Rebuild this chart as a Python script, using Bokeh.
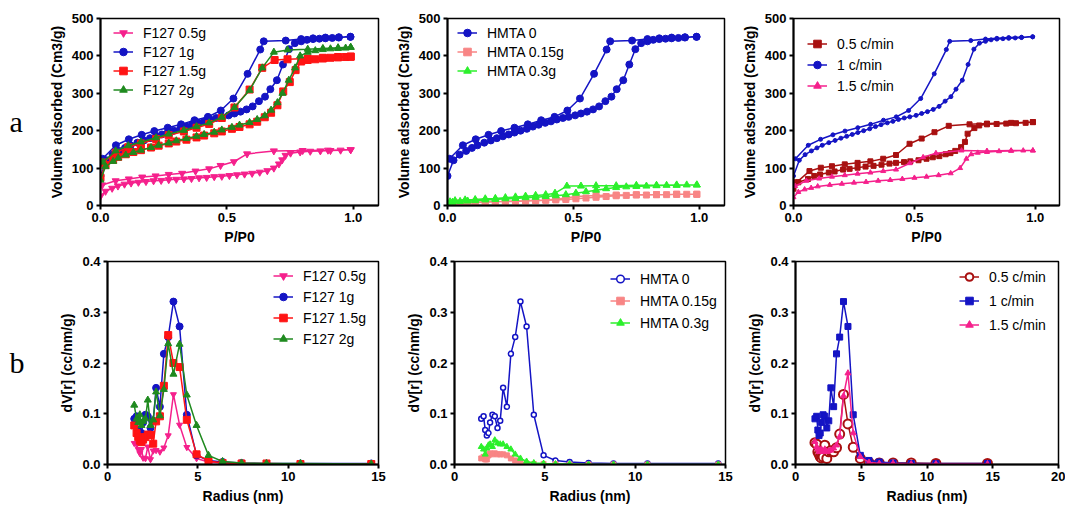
from bokeh.plotting import figure
from bokeh.layouts import column, row
from bokeh.models import Legend, LegendItem, FixedTicker, NumeralTickFormatter, Range1d
from bokeh.core.properties import value
from bokeh.embed import file_html
from bokeh.resources import INLINE

FONT = "Liberation Sans"
PINK = "#f5208c"
BLUE = "#1414c4"
RED = "#ff1414"
GREEN = "#1f8a1f"
SALMON = "#f88585"
LIME = "#2cf02c"
DARKRED = "#a81010"

# ---------------- isotherm data (P/P0, Volume adsorbed) ----------------
# blue sample: F127 1g = HMTA 0 = 1 c/min
blue_P_ads = [0.0, 0.024, 0.048, 0.074, 0.097, 0.119, 0.146, 0.172, 0.196, 0.220, 0.243, 0.266, 0.290,
              0.315, 0.339, 0.362, 0.388, 0.411, 0.434, 0.458, 0.481, 0.507, 0.530, 0.554, 0.578, 0.602,
              0.627, 0.651, 0.672, 0.698, 0.722, 0.746, 0.769, 0.794, 0.817, 0.841, 0.866, 0.890, 0.917,
              0.943, 0.989]
blue_V_ads = [79, 121, 136, 146, 154, 161, 168, 174, 180, 185, 190, 195, 200, 205, 211, 216, 221, 225,
              230, 234, 237, 241, 246, 251, 257, 265, 279, 291, 311, 335, 377, 418, 434, 439, 443, 445,
              446, 447, 448, 449, 451]
blue_P_des = [0.989, 0.943, 0.890, 0.841, 0.794, 0.733, 0.646, 0.632, 0.582, 0.526, 0.476, 0.425, 0.372,
              0.319, 0.266, 0.213, 0.163, 0.112, 0.061, 0.008]
blue_V_des = [451, 450, 449, 447, 445, 441, 439, 417, 352, 286, 254, 237, 228, 217, 208, 199, 189, 177,
              161, 125]

f15_P_ads = [0.0, 0.02, 0.05, 0.07, 0.1, 0.13, 0.16, 0.2, 0.23, 0.27, 0.3, 0.34, 0.38, 0.41, 0.45, 0.48,
             0.52, 0.55, 0.59, 0.62, 0.65, 0.675, 0.70, 0.723, 0.749, 0.772, 0.794, 0.82, 0.85, 0.88,
             0.91, 0.94, 0.97, 0.99]
f15_V_ads = [75, 108, 122, 130, 137, 143, 148, 155, 160, 166, 171, 176, 182, 187, 193, 198, 205, 210,
             217, 224, 236, 248, 268, 305, 330, 362, 385, 389, 391, 393, 395, 396, 397, 398]
f15_P_des = [0.99, 0.94, 0.88, 0.82, 0.74, 0.689, 0.64, 0.59, 0.53, 0.48, 0.43, 0.38, 0.33, 0.27, 0.22,
             0.16, 0.11, 0.06, 0.01]
f15_V_des = [398, 397, 395, 393, 391, 389, 368, 310, 262, 234, 218, 208, 198, 188, 178, 166, 156, 141, 115]

f2_P_ads = [0.0, 0.02, 0.05, 0.07, 0.1, 0.13, 0.16, 0.2, 0.23, 0.27, 0.3, 0.34, 0.38, 0.41, 0.45, 0.48,
            0.52, 0.55, 0.59, 0.62, 0.65, 0.675, 0.70, 0.72, 0.745, 0.77, 0.79, 0.82, 0.85, 0.88, 0.91,
            0.94, 0.97, 0.99]
f2_V_ads = [68, 104, 118, 127, 135, 142, 148, 155, 161, 167, 173, 179, 185, 190, 196, 202, 209, 215,
            222, 230, 240, 255, 275, 300, 335, 368, 400, 410, 414, 417, 419, 420, 421, 423]
f2_P_des = [0.99, 0.94, 0.88, 0.82, 0.74, 0.686, 0.64, 0.59, 0.53, 0.48, 0.43, 0.38, 0.33, 0.27, 0.22,
            0.16, 0.11, 0.06, 0.01]
f2_V_des = [423, 422, 420, 418, 416, 410, 368, 308, 262, 236, 221, 211, 201, 191, 181, 170, 160, 146, 116]

f05_P_ads = [0.0, 0.02, 0.046, 0.069, 0.095, 0.121, 0.15, 0.18, 0.21, 0.24, 0.27, 0.3, 0.33, 0.36, 0.39,
             0.42, 0.45, 0.48, 0.51, 0.54, 0.57, 0.6, 0.63, 0.66, 0.686, 0.706, 0.719, 0.732, 0.752,
             0.79, 0.83, 0.87, 0.91, 0.95, 0.99]
f05_V_ads = [25, 38, 46, 52, 57, 60, 62, 64, 66, 67, 69, 70, 71, 72, 74, 75, 77, 78, 80, 82, 84, 86, 89,
             93, 100, 111, 122, 134, 140, 143, 145, 146, 147, 148, 149]
f05_P_des = [0.99, 0.9, 0.8, 0.686, 0.58, 0.528, 0.475, 0.43, 0.376, 0.323, 0.27, 0.218, 0.165, 0.112,
             0.06, 0.007]
f05_V_des = [149, 148, 147, 146, 138, 117, 107, 98, 92, 86, 83, 79, 76, 71, 66, 55]

h015_P_ads = [0.0, 0.02, 0.05, 0.08, 0.11, 0.15, 0.19, 0.23, 0.27, 0.31, 0.35, 0.39, 0.43, 0.47, 0.51,
              0.55, 0.59, 0.63, 0.67, 0.71, 0.75, 0.79, 0.83, 0.87, 0.91, 0.95, 0.99]
h015_V_ads = [3, 5, 6, 7, 8, 9, 10, 11, 11, 12, 13, 14, 15, 16, 18, 20, 22, 24, 26, 27, 28, 28, 29, 29,
              30, 30, 30]
h015_P_des = [0.99, 0.91, 0.83, 0.75, 0.67, 0.59, 0.51, 0.47, 0.43, 0.39, 0.35, 0.31, 0.27, 0.23, 0.19,
              0.15, 0.11, 0.07, 0.03, 0.01]
h015_V_des = [30, 30, 29, 29, 28, 27, 24, 20, 17, 15, 14, 13, 12, 11, 10, 10, 9, 8, 7, 5]

h03_P_ads = [0.0, 0.02, 0.05, 0.08, 0.11, 0.15, 0.19, 0.23, 0.27, 0.31, 0.35, 0.39, 0.43, 0.47, 0.51,
             0.55, 0.59, 0.63, 0.67, 0.71, 0.75, 0.79, 0.83, 0.87, 0.91, 0.95, 0.99]
h03_V_ads = [5, 9, 11, 12, 13, 15, 16, 18, 19, 21, 22, 24, 26, 29, 33, 37, 41, 45, 48, 50, 51, 52, 53,
             54, 54, 55, 55]
h03_P_des = [0.99, 0.91, 0.83, 0.75, 0.67, 0.59, 0.53, 0.474, 0.427, 0.39, 0.35, 0.31, 0.27, 0.23, 0.19,
             0.15, 0.11, 0.07, 0.03, 0.01]
h03_V_des = [55, 55, 54, 54, 53, 53, 52, 52, 33, 29, 27, 25, 23, 21, 19, 18, 16, 15, 13, 10]

c05_P_ads = [0.0, 0.02, 0.06, 0.086, 0.11, 0.146, 0.17, 0.205, 0.232, 0.265, 0.298, 0.331, 0.364, 0.397,
             0.424, 0.457, 0.483, 0.517, 0.55, 0.576, 0.603, 0.629, 0.649, 0.669, 0.693, 0.709, 0.72,
             0.748, 0.768, 0.80, 0.84, 0.88, 0.92, 0.96, 0.99]
c05_V_ads = [45, 62, 71, 79, 83, 88, 91, 96, 98, 101, 104, 106, 109, 112, 114, 116, 118, 121, 125, 129,
             132, 137, 140, 146, 156, 170, 192, 207, 214, 217, 218, 219, 220, 221, 223]
c05_P_des = [0.99, 0.9, 0.8, 0.728, 0.642, 0.583, 0.53, 0.48, 0.424, 0.371, 0.318, 0.265, 0.212, 0.159,
             0.113, 0.066, 0.013]
c05_V_des = [223, 221, 219, 217, 213, 196, 179, 165, 135, 125, 118, 114, 110, 105, 101, 92, 62]

c15_P_ads = [0.0, 0.02, 0.046, 0.073, 0.1, 0.15, 0.2, 0.25, 0.3, 0.35, 0.4, 0.45, 0.5, 0.55, 0.6, 0.65,
             0.689, 0.715, 0.735, 0.762, 0.80, 0.85, 0.9, 0.95, 0.99]
c15_V_ads = [22, 36, 43, 47, 51, 55, 58, 61, 63, 66, 68, 71, 74, 77, 81, 86, 100, 125, 137, 141, 143,
             145, 146, 147, 147]
c15_P_des = [0.99, 0.9, 0.8, 0.695, 0.589, 0.536, 0.481, 0.424, 0.371, 0.318, 0.265, 0.212, 0.159, 0.106,
             0.053, 0.007]
c15_V_des = [147, 147, 146, 147, 140, 129, 113, 96, 92, 88, 85, 81, 77, 72, 66, 52]

# ---------------- pore size distribution (Radius nm, dV[r]) ----------------
R = [1.48, 1.61, 1.70, 1.79, 1.88, 1.97, 2.10, 2.23, 2.38, 2.53, 2.69, 2.90, 3.12, 3.36, 3.65, 3.99,
     4.39, 4.93, 5.59, 6.37, 7.42, 8.80, 10.68, 14.6]
dv_blue = [0.090, 0.095, 0.068, 0.057, 0.062, 0.083, 0.098, 0.095, 0.072, 0.086, 0.151, 0.114, 0.218,
           0.251, 0.321, 0.272, 0.098, 0.018, 0.008, 0.005, 0.003, 0.002, 0.002, 0.002]
dv_f05 = [0.042, 0.040, 0.030, 0.022, 0.030, 0.013, 0.012, 0.035, 0.010, 0.027, 0.028, 0.025, 0.033,
          0.057, 0.138, 0.078, 0.034, 0.012, 0.005, 0.003, 0.002, 0.001, 0.001, 0.001]
dv_f15 = [0.077, 0.062, 0.054, 0.047, 0.044, 0.049, 0.054, 0.059, 0.058, 0.041, 0.085, 0.095, 0.155,
          0.255, 0.200, 0.192, 0.088, 0.020, 0.007, 0.003, 0.002, 0.002, 0.001, 0.001]
dv_f2 = [0.117, 0.090, 0.083, 0.098, 0.077, 0.085, 0.090, 0.127, 0.077, 0.088, 0.143, 0.096, 0.148,
         0.238, 0.178, 0.237, 0.137, 0.077, 0.018, 0.006, 0.003, 0.002, 0.002, 0.001]
dv_h015 = [0.012, 0.015, 0.010, 0.010, 0.018, 0.022, 0.020, 0.022, 0.020, 0.020, 0.020, 0.018, 0.012,
           0.008, 0.003, 0.002, 0.001, 0.001, 0.001, 0.0, 0.0, 0.0, 0.0, 0.0]
dv_h03 = [0.035, 0.030, 0.020, 0.032, 0.038, 0.040, 0.035, 0.048, 0.042, 0.040, 0.040, 0.035, 0.030,
          0.020, 0.012, 0.006, 0.003, 0.002, 0.001, 0.001, 0.0, 0.0, 0.0, 0.0]
dv_c05 = [0.043, 0.040, 0.025, 0.020, 0.015, 0.013, 0.015, 0.038, 0.012, 0.025, 0.027, 0.025, 0.033,
          0.060, 0.138, 0.080, 0.034, 0.012, 0.004, 0.003, 0.003, 0.003, 0.002, 0.002]
dv_c15 = [0.045, 0.035, 0.030, 0.025, 0.028, 0.030, 0.025, 0.030, 0.025, 0.027, 0.028, 0.032, 0.038,
          0.055, 0.135, 0.180, 0.062, 0.015, 0.004, 0.002, 0.002, 0.001, 0.001, 0.001]

A_XTICKS = [0.0, 0.5, 1.0]
A_YTICKS = [0, 100, 200, 300, 400, 500]
B_YTICKS = [0.0, 0.1, 0.2, 0.3, 0.4]
PANEL_LETTERS = ["a", "b"]


def make_fig(w, h, bl, br, bt, bb, xr, yr, xticks, yticks, xfmt, yfmt, xlabel, ylabel):
    p = figure(width=w, height=h, x_range=Range1d(*xr), y_range=Range1d(*yr),
               output_backend="svg", toolbar_location=None,
               min_border_left=bl, min_border_right=br, min_border_top=bt, min_border_bottom=bb)
    p.grid.visible = False
    p.outline_line_color = "black"
    p.outline_line_width = 1.5
    p.outline_line_alpha = 1.0
    p.xaxis.ticker = FixedTicker(ticks=xticks)
    p.yaxis.ticker = FixedTicker(ticks=yticks)
    p.xaxis.formatter = NumeralTickFormatter(format=xfmt)
    p.yaxis.formatter = NumeralTickFormatter(format=yfmt)
    p.xaxis.axis_label = xlabel
    p.yaxis.axis_label = ylabel
    for ax in (p.xaxis[0], p.yaxis[0]):
        ax.axis_line_width = 2
        ax.axis_line_color = "black"
        ax.major_tick_line_width = 2
        ax.major_tick_line_color = "black"
        ax.major_tick_out = 4
        ax.major_tick_in = 0
        ax.minor_tick_line_color = None
        ax.major_label_text_font = FONT
        ax.major_label_text_font_style = "bold"
        ax.major_label_text_font_size = "13px"
        ax.major_label_text_color = "black"
        ax.axis_label_text_font = FONT
        ax.axis_label_text_font_style = "bold"
        ax.axis_label_text_font_size = "14px"
        ax.axis_label_text_color = "black"
        ax.major_label_standoff = 3
        ax.axis_label_standoff = 4
    return p


def letter_fig(h, letter, ty):
    p = figure(width=40, height=h, x_range=Range1d(0, 40), y_range=Range1d(0, h),
               output_backend="svg", toolbar_location=None, min_border=0)
    p.axis.visible = False
    p.grid.visible = False
    p.outline_line_color = None
    p.text(x=[9], y=[ty], text=[letter], text_font=value("Liberation Serif"),
           text_font_size="30px", text_color="black", text_baseline="alphabetic")
    return p


def series(p, x, y, color, marker, size, fill=None, lw=1.5, mlw=1.0):
    ln = p.line(x, y, line_color=color, line_width=lw)
    sc = p.scatter(x, y, marker=marker, size=size, line_color=color,
                   fill_color=fill if fill else color, line_width=mlw)
    return [ln, sc]


def add_legend(p, entries, loc, spacing):
    items = [LegendItem(label=lab, renderers=rs) for lab, rs in entries]
    lg = Legend(items=items, location=loc, border_line_color=None, background_fill_alpha=0,
                label_text_font=FONT, label_text_font_size="14px", label_text_color="black",
                glyph_width=20, glyph_height=19, label_height=19, label_standoff=10,
                spacing=spacing, padding=0, margin=0)
    p.add_layout(lg)


TOP_H, BOT_H = 250, 256

# ---------------- panel a1 ----------------
a1 = make_fig(350, TOP_H, 60, 12, 18, 45, (0, 1.1), (0, 500), A_XTICKS, A_YTICKS, "0.0", "0",
              "P/P0", "Volume adsorbed (Cm3/g)")
r1 = series(a1, f05_P_ads + f05_P_des, f05_V_ads + f05_V_des, PINK, "inverted_triangle", 7)
r2 = series(a1, blue_P_ads + blue_P_des, blue_V_ads + blue_V_des, BLUE, "circle", 7)
r3 = series(a1, f15_P_ads + f15_P_des, f15_V_ads + f15_V_des, RED, "square", 7)
r4 = series(a1, f2_P_ads + f2_P_des, f2_V_ads + f2_V_des, GREEN, "triangle", 7)
add_legend(a1, [("F127 0.5g", r1), ("F127 1g", r2), ("F127 1.5g", r3), ("F127 2g", r4)], (13, 106), 0)

# ---------------- panel a2 ----------------
a2 = make_fig(346, TOP_H, 57, 12, 18, 45, (0, 1.1), (0, 500), A_XTICKS, A_YTICKS, "0.0", "0",
              "P/P0", "Volume adsorbed (Cm3/g)")
s1 = series(a2, blue_P_ads + blue_P_des, blue_V_ads + blue_V_des, BLUE, "circle", 7)
s2 = series(a2, h015_P_ads + h015_P_des, h015_V_ads + h015_V_des, SALMON, "square", 6)
s3 = series(a2, h03_P_ads + h03_P_des, h03_V_ads + h03_V_des, LIME, "triangle", 7)
add_legend(a2, [("HMTA 0", s1), ("HMTA 0.15g", s2), ("HMTA 0.3g", s3)], (10, 125), 0)

# ---------------- panel a3 ----------------
a3 = make_fig(329, TOP_H, 57, 6, 18, 45, (0, 1.1), (0, 500), A_XTICKS, A_YTICKS, "0.0", "0",
              "P/P0", "Volume adsorbed (Cm3/g)")
t1 = series(a3, c05_P_ads + c05_P_des, c05_V_ads + c05_V_des, DARKRED, "square", 5)
t2 = series(a3, blue_P_ads + blue_P_des, blue_V_ads + blue_V_des, BLUE, "circle", 4)
t3 = series(a3, c15_P_ads + c15_P_des, c15_V_ads + c15_V_des, PINK, "triangle", 5)
add_legend(a3, [("0.5 c/min", t1), ("1 c/min", t2), ("1.5 c/min", t3)], (14, 110), 2)

# ---------------- panel b1 ----------------
b1 = make_fig(350, BOT_H, 67, 12, 11, 42, (0, 15), (0, 0.4), [0, 5, 10, 15], B_YTICKS, "0", "0.0",
              "Radius (nm)", "dV[r] (cc/nm/g)")
u1 = series(b1, R, dv_f05, PINK, "inverted_triangle", 6)
u2 = series(b1, R, dv_blue, BLUE, "circle", 7)
u3 = series(b1, R, dv_f15, RED, "square", 7)
u4 = series(b1, R, dv_f2, GREEN, "triangle", 7)
add_legend(b1, [("F127 0.5g", u1), ("F127 1g", u2), ("F127 1.5g", u3), ("F127 2g", u4)], (166, 116), 2)

# ---------------- panel b2 ----------------
b2 = make_fig(346, BOT_H, 64, 11, 11, 42, (0, 15), (0, 0.4), [0, 5, 10, 15], B_YTICKS, "0", "0.0",
              "Radius (nm)", "dV[r] (cc/nm/g)")
v1 = series(b2, R, dv_blue, BLUE, "circle", 5, fill="white", mlw=1.5)
v2 = series(b2, R, dv_h015, SALMON, "square", 5)
v3 = series(b2, R, dv_h03, LIME, "triangle", 6)
add_legend(b2, [("HMTA 0", v1), ("HMTA 0.15g", v2), ("HMTA 0.3g", v3)], (156, 132), 3)

# ---------------- panel b3 ----------------
b3 = make_fig(329, BOT_H, 59, 7, 11, 42, (0, 20), (0, 0.4), [0, 5, 10, 15, 20], B_YTICKS, "0", "0.0",
              "Radius (nm)", "dV[r] (cc/nm/g)")
w1 = series(b3, R, dv_c05, DARKRED, "circle", 9, fill="white", mlw=2)
w2 = series(b3, R, dv_blue, BLUE, "square", 6)
w3 = series(b3, R, dv_c15, PINK, "triangle", 6)
add_legend(b3, [("0.5 c/min", w1), ("1 c/min", w2), ("1.5 c/min", w3)], (164, 130), 5)

la = letter_fig(TOP_H, PANEL_LETTERS[0], TOP_H - 138)
lb = letter_fig(BOT_H, PANEL_LETTERS[1], BOT_H - 127)

layout = column(row(la, a1, a2, a3), row(lb, b1, b2, b3))
open("out.html", "w").write(file_html(layout, INLINE))
